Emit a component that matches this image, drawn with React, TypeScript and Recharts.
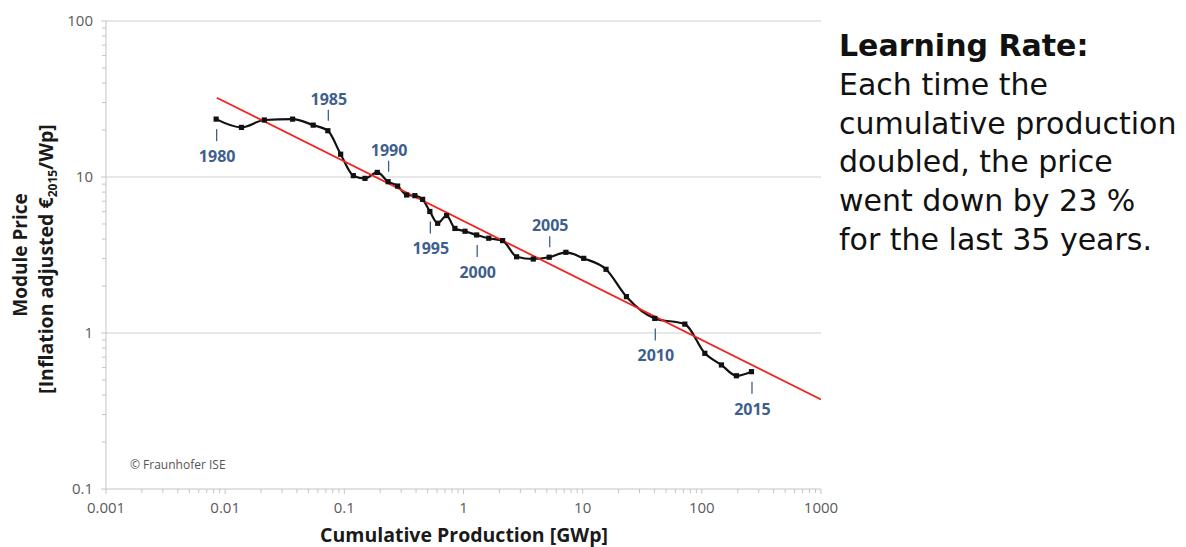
import React from 'react';
import { ComposedChart, Line, Scatter, XAxis, YAxis, ReferenceLine } from 'recharts';

// ---- data ----
const years = [
  1980, 1981, 1982, 1983, 1984, 1985, 1986, 1987, 1988, 1989,
  1990, 1991, 1992, 1993, 1994, 1995, 1996, 1997, 1998, 1999,
  2000, 2001, 2002, 2003, 2004, 2005, 2006, 2007, 2008, 2009,
  2010, 2011, 2012, 2013, 2014, 2015,
];
const cumulativeGWp = [
  0.0084, 0.0137, 0.0213, 0.0368, 0.0548, 0.0727, 0.0931, 0.119, 0.149, 0.189,
  0.233, 0.28, 0.333, 0.391, 0.454, 0.522, 0.607, 0.721, 0.847, 1.03,
  1.29, 1.63, 2.13, 2.79, 3.85, 5.24, 7.23, 10.2, 15.7, 23.3,
  40.3, 72.0, 106, 146, 195, 261,
];
const modulePrice = [
  23.5, 20.8, 23.2, 23.5, 21.5, 19.8, 14.0, 10.2, 9.8, 10.7,
  9.33, 8.75, 7.67, 7.59, 7.19, 6.01, 5.05, 5.66, 4.68, 4.49,
  4.25, 4.05, 3.91, 3.08, 2.98, 3.06, 3.29, 3.01, 2.56, 1.71,
  1.24, 1.14, 0.741, 0.624, 0.532, 0.565,
];
const trendX = [0.0085, 1000];
const trendY = [32.2, 0.375];

const annotatedYears = [1980, 1985, 1990, 1995, 2000, 2005, 2010, 2015];
const annotationAbove = [1985, 1990, 2005];

const xMajorTicks = [0.001, 0.01, 0.1, 1, 10, 100, 1000];
const xTickLabels = ['0.001', '0.01', '0.1', '1', '10', '100', '1000'];
const yMajorTicks = [0.1, 1, 10, 100];
const yTickLabels = ['0.1', '1', '10', '100'];
const minorMultipliers = [2, 3, 4, 5, 6, 7, 8, 9];
const gridValues = [1, 10, 100];

const xAxisTitle = 'Cumulative Production [GWp]';
const yAxisTitle1 = 'Module Price';
const copyright = '© Fraunhofer ISE';
const noteTitle = 'Learning Rate:';
const noteLines = [
  'Each time the',
  'cumulative production',
  'doubled, the price',
  'went down by 23 %',
  'for the last 35 years.',
];

// ---- derived tables ----
const priceData = years.map((year, i) => ({ year, x: cumulativeGWp[i], y: modulePrice[i] }));
const trendData = trendX.map((x, i) => ({ x, y: trendY[i] }));
const annotationData = priceData.filter((d) => annotatedYears.includes(d.year));

const withMinors = (majors: number[]) => {
  const out: number[] = [];
  majors.forEach((m, i) => {
    out.push(m);
    if (i < majors.length - 1) minorMultipliers.forEach((k) => out.push(+(m * k).toPrecision(6)));
  });
  return out;
};
const xTicks = withMinors(xMajorTicks);
const yTicks = withMinors(yMajorTicks);

const majorIndex = (majors: number[], v: number) =>
  majors.findIndex((m) => Math.abs(Math.log10(m) - Math.log10(v)) < 1e-6);

const FONT = '"Open Sans", "Noto Sans", sans-serif';
const NOTE_FONT = '"DejaVu Sans", "Open Sans", sans-serif';
const AXIS_GRAY = '#c4c4c4';
const TICK_TEXT = '#5a5a5a';
const YEAR_BLUE = '#3e5f8e';

const XTick = (props: any) => {
  const { x, y, payload } = props;
  const idx = majorIndex(xMajorTicks, payload.value);
  const major = idx >= 0;
  return (
    <g>
      <line x1={x} x2={x} y1={y} y2={y + (major ? 5 : 4)} stroke={AXIS_GRAY} strokeWidth={1} />
      {major && (
        <text x={x} y={y + 24} textAnchor="middle" fontFamily={FONT} fontSize={15} fill={TICK_TEXT}>
          {xTickLabels[idx]}
        </text>
      )}
    </g>
  );
};

const YTick = (props: any) => {
  const { x, y, payload } = props;
  const idx = majorIndex(yMajorTicks, payload.value);
  const major = idx >= 0;
  return (
    <g>
      <line x1={x} x2={x - (major ? 5 : 4)} y1={y} y2={y} stroke={AXIS_GRAY} strokeWidth={1} />
      {major && (
        <text x={x - 13} y={y + 5} textAnchor="end" fontFamily={FONT} fontSize={15} fill={TICK_TEXT}>
          {yTickLabels[idx]}
        </text>
      )}
    </g>
  );
};

const SquareDot = (props: any) => {
  const { cx, cy, index } = props;
  if (cx == null || cy == null) return <g key={`d${index}`} />;
  return <rect key={`d${index}`} x={cx - 2.6} y={cy - 2.6} width={5.2} height={5.2} fill="#111" />;
};

const YearMark = (props: any) => {
  const { cx, cy, payload } = props;
  if (cx == null || cy == null) return <g />;
  const above = annotationAbove.includes(payload.year);
  const t1 = above ? -10 : 10;
  const t2 = above ? -21 : 22;
  const ly = above ? -32 : 37;
  return (
    <g>
      <line x1={cx + 0.5} x2={cx + 0.5} y1={cy + t1} y2={cy + t2} stroke={YEAR_BLUE} strokeWidth={1.3} />
      <text
        x={cx + 1}
        y={cy + ly + 6}
        textAnchor="middle"
        fontFamily={FONT}
        fontWeight={700}
        fontSize={16}
        fill={YEAR_BLUE}
      >
        {payload.year}
      </text>
    </g>
  );
};

export default function App() {
  return (
    <div style={{ position: 'absolute', left: 0, top: 0, width: 1186, height: 547, background: '#fff' }}>
      <ComposedChart
        width={1186}
        height={547}
        margin={{ top: 21, right: 365, bottom: 28, left: 46 }}
      >
        <XAxis
          dataKey="x"
          type="number"
          scale="log"
          domain={[0.001, 1000]}
          allowDataOverflow
          ticks={xTicks}
          interval={0}
          tick={<XTick />}
          tickLine={false}
          tickSize={0}
          tickMargin={0}
          height={30}
          axisLine={{ stroke: AXIS_GRAY, strokeWidth: 1 }}
        />
        <YAxis
          dataKey="y"
          type="number"
          scale="log"
          domain={[0.1, 100]}
          allowDataOverflow
          ticks={yTicks}
          interval={0}
          tick={<YTick />}
          tickLine={false}
          tickSize={0}
          tickMargin={0}
          width={60}
          axisLine={{ stroke: AXIS_GRAY, strokeWidth: 1 }}
        />
        {gridValues.map((v) => (
          <ReferenceLine key={v} y={v} stroke="#cfcfcf" strokeWidth={1} ifOverflow="extendDomain" />
        ))}
        <Line
          data={priceData}
          dataKey="y"
          type="monotone"
          stroke="#111"
          strokeWidth={2.2}
          dot={SquareDot}
          activeDot={false}
          isAnimationActive={false}
        />
        <Line
          data={trendData}
          dataKey="y"
          type="linear"
          stroke="#f0241c"
          strokeWidth={1.8}
          dot={false}
          activeDot={false}
          isAnimationActive={false}
        />
        <Scatter data={annotationData} dataKey="y" shape={YearMark} isAnimationActive={false} />
      </ComposedChart>

      <svg
        width={1186}
        height={547}
        style={{ position: 'absolute', left: 0, top: 0, pointerEvents: 'none' }}
      >
        <text
          x={464}
          y={542}
          textAnchor="middle"
          fontFamily={FONT}
          fontWeight={700}
          fontSize={19.5}
          fill="#1a1a1a"
        >
          {xAxisTitle}
        </text>
        <text
          transform="translate(27, 255) rotate(-90)"
          textAnchor="middle"
          fontFamily={FONT}
          fontWeight={700}
          fontSize={19}
          fill="#1a1a1a"
        >
          {yAxisTitle1}
        </text>
        <text
          transform="translate(53, 259) rotate(-90)"
          textAnchor="middle"
          fontFamily={FONT}
          fontWeight={700}
          fontSize={19.5}
          fill="#1a1a1a"
        >
          <tspan>[Inflation adjusted €</tspan>
          <tspan fontSize={12} dy={4}>2015</tspan>
          <tspan dy={-4}>/Wp]</tspan>
        </text>
        <text x={130} y={469} fontFamily={FONT} fontSize={12} fill="#555">
          {copyright}
        </text>
      </svg>

      <div
        style={{
          position: 'absolute',
          left: 839,
          top: 27,
          fontFamily: NOTE_FONT,
          fontSize: 30,
          lineHeight: '38.8px',
          color: '#111',
          whiteSpace: 'nowrap',
        }}
      >
        <div style={{ fontWeight: 700 }}>{noteTitle}</div>
        {noteLines.map((l) => (
          <div key={l}>{l}</div>
        ))}
      </div>
    </div>
  );
}
